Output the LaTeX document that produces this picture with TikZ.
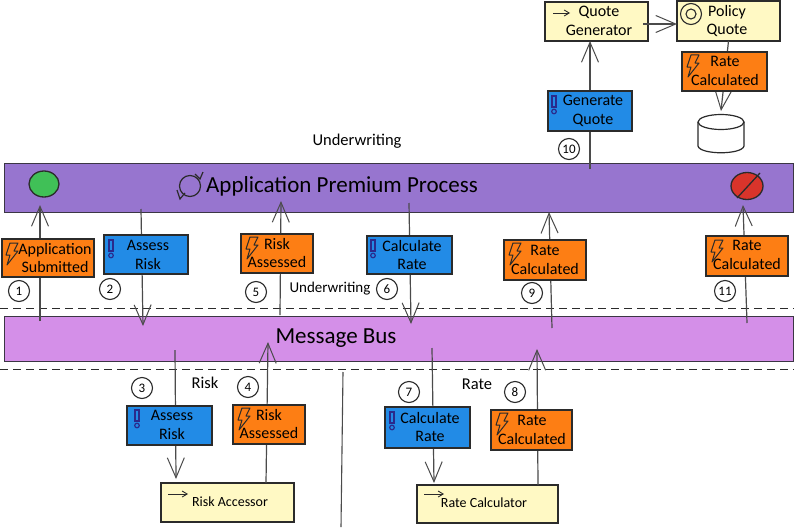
\documentclass[tikz,border=0pt]{standalone}
\usepackage{fontspec}
\setmainfont{Carlito}
\usetikzlibrary{arrows.meta,shapes.geometric}
\definecolor{ink}{HTML}{2B2B2B}
\definecolor{procbar}{HTML}{9775CF}
\definecolor{busbar}{HTML}{D48FE8}
\definecolor{evt}{HTML}{FD7E14}
\definecolor{cmd}{HTML}{228BE6}
\definecolor{svc}{HTML}{FFF9C4}
\definecolor{okgreen}{HTML}{40C057}
\definecolor{stopred}{HTML}{D9342B}
\definecolor{iconblue}{HTML}{2A2A8C}
\tikzset{
  x=1pt,y=-1pt,
  every node/.style={font=\fontsize{16}{18.5}\selectfont,text=black,align=center,inner sep=0pt,outer sep=0pt},
  bar/.style={draw=ink!85!procbar,line width=1pt,rectangle},
  sbox/.style={draw=ink,line width=1.1pt,rectangle},
  evtbox/.style={sbox,fill=evt},
  cmdbox/.style={sbox,fill=cmd},
  svcbox/.style={sbox,fill=svc},
  flow/.style={draw=ink!85,line width=1.2pt,-{Straight Barb[length=20pt,width=17pt,line width=1pt]}},
  plainline/.style={draw=ink!85,line width=1.1pt},
  dashline/.style={draw=ink,line width=1pt,dash pattern=on 8pt off 5pt},
  numc/.style={circle,draw=ink,line width=1.1pt,minimum size=21pt,font=\fontsize{13}{15}\selectfont},
  lbl/.style={font=\fontsize{16.5}{19}\selectfont},
  small/.style={font=\fontsize{14}{16}\selectfont},
  title/.style={font=\fontsize{23}{27}\selectfont},
  icon/.style={draw=ink,line width=1pt},
}
\newcommand\skbox[7][]{\node[#3,minimum width={(#6-#4)*1pt},minimum height={(#7-#5)*1pt}] (#2) at ({(#4+#6)/2},{(#5+#7)/2}) {};}
\newcommand\bolt[2]{\draw[icon,line join=round,shift={(#1,#2)}] (5,0)--(13,0)--(9,8)--(13,8)--(2,22)--(5,12)--(1,12)--cycle;}
\newcommand\bang[2]{\draw[icon,draw=iconblue,line width=1.2pt,shift={(#1,#2)}] (0,0) rectangle (4,11); \draw[icon,draw=iconblue,line width=1.2pt,shift={(#1,#2)}] (2,15.5) circle[radius=2.3];}
\newcommand\svcarrow[3]{\draw[ink,line width=0.9pt,-{Straight Barb[length=5pt,width=6pt]}] (#1,#2) -- (#1+#3,#2);}
\begin{document}
\begin{tikzpicture}
\useasboundingbox (0,0) rectangle (794,527);
\fill[white] (0,0) rectangle (794,527);

\coordinate (dashAl) at (0,308); \coordinate (dashAr) at (794,308);
\coordinate (dashBl) at (0,369); \coordinate (dashBr) at (794,369);

\skbox{process}{bar,fill=procbar}{4}{163}{793}{212}
\skbox{bus}{bar,fill=busbar}{4}{316}{793}{361}
\draw[dashline] (dashAl) -- (dashAr);
\draw[dashline] (dashBl) -- (dashBr);

\node[title] (proctitle) at (342,186) {Application Premium Process};
\node[title] (bustitle) at (336,338) {Message Bus};
\node[lbl] (uw1) at (357,141) {Underwriting};
\node[font=\fontsize{15}{18}\selectfont] (uw2) at (330,289) {Underwriting};
\node[lbl] (riskl) at (205,383) {Risk};
\node[lbl] (ratel) at (477,384) {Rate};

\node[ellipse,draw=ink,line width=1.3pt,fill=okgreen,minimum width=30pt,minimum height=26pt] (start) at (44,184) {};
\node[ellipse,draw=ink,line width=1.3pt,fill=stopred,minimum width=32pt,minimum height=27pt] (stop) at (747,186) {};
\draw[ink,line width=1.3pt] (737,198) -- (760,173);
\draw[ink,line width=1.2pt] (190,186) circle[radius=10.5];
\draw[ink,line width=1.2pt] (195,174) -- (200,179) -- (203,172);
\draw[ink,line width=1.2pt] (177,190) -- (180,199) -- (185,193);

\coordinate (a1s) at (40,321); \coordinate (a1e) at (40,205);
\coordinate (a2s) at (141,209); \coordinate (a2e) at (143,326);
\coordinate (a5s) at (280,315); \coordinate (a5e) at (281,201);
\coordinate (a6s) at (409,203); \coordinate (a6e) at (411,324);
\coordinate (a9s) at (552,328); \coordinate (a9e) at (549,212);
\coordinate (a11s) at (747,323); \coordinate (a11e) at (743,205);
\coordinate (a10s) at (590,169);
\coordinate (a3s) at (175,350); \coordinate (a3e) at (176,479);
\coordinate (a4e) at (268,342);
\coordinate (a7s) at (432,348); \coordinate (a7e) at (434,483);
\coordinate (a8e) at (537,349);
\coordinate (divT) at (343,372); \coordinate (divB) at (341,527);

\skbox{qgen}{svcbox}{545}{2}{648}{41}
\skbox{pq}{svcbox}{677}{1}{780}{41}
\skbox{raccess}{svcbox}{161}{483}{294}{522}
\skbox{rcalc}{svcbox}{417}{485}{558}{523}

\node[minimum width=47pt,minimum height=39pt] (db) at (721,133.5) {};
\draw[ink,line width=1.2pt,fill=white] (698,122) -- (698,146) .. controls (700,155) and (742,155) .. (744,146) -- (744,122);
\draw[ink,line width=1.2pt,fill=white] (721,122) ellipse[x radius=23,y radius=7.5];

\draw[flow] (a1s) -- (a1e);
\draw[flow] (a2s) -- (a2e);
\draw[flow] (a5s) -- (a5e);
\draw[flow] (a6s) -- (a6e);
\draw[flow] (a9s) -- (a9e);
\draw[flow] (a11s) -- (a11e);
\draw[flow] (a10s) -- (qgen.south -| a10s);
\draw[flow] (qgen.east |- 0,24) ++(-5,0) -- (pq.west |- 0,24);
\draw[flow] (pq.south) -- ([yshift=3pt]db.north);
\draw[flow] (raccess.north -| 266,0) -- (a4e);
\draw[flow] (a3s) -- (a3e);
\draw[flow] (a7s) -- (a7e);
\draw[flow] (rcalc.north -| 538,0) -- (a8e);
\draw[plainline] (divT) -- (divB);

\skbox{b1}{evtbox}{2}{239}{94}{277}
\skbox{b2}{cmdbox}{104}{235}{188}{274}
\skbox{b5}{evtbox}{241}{234}{313}{273}
\skbox{b6}{cmdbox}{367}{236}{452}{274}
\skbox{b9}{evtbox}{504}{240}{586}{280}
\skbox{b11}{evtbox}{706}{236}{788}{276}
\skbox{b10}{cmdbox}{548}{91}{632}{131}
\skbox{b12}{evtbox}{682}{52}{767}{91}
\skbox{b3}{cmdbox}{127}{406}{212}{445}
\skbox{b4}{evtbox}{233}{405}{305}{444}
\skbox{b7}{cmdbox}{385}{407}{470}{448}
\skbox{b8}{evtbox}{491}{410}{572}{450}

\node (t1) at (55,258) {Application\\Submitted};
\node (t2) at (148,255) {Assess\\Risk};
\node (t5) at (277,253) {Risk\\Assessed};
\node (t6) at (412,255) {Calculate\\Rate};
\node (t9) at (545,260) {Rate\\Calculated};
\node (t11) at (747,255) {Rate\\Calculated};
\node (t10) at (593,111) {Generate\\Quote};
\node (t12) at (725,71) {Rate\\Calculated};
\node (t3) at (172,425) {Assess\\Risk};
\node (t4) at (269,424) {Risk\\Assessed};
\node (t7) at (430,427) {Calculate\\Rate};
\node (t8) at (532,430) {Rate\\Calculated};
\node (tq) at (599,21) {Quote\\Generator};
\node (tp) at (727,21) {Policy\\Quote};
\node[small] (tra) at (230,502) {Risk Accessor};
\node[small] (trc) at (484,503) {Rate Calculator};

\bolt{5}{243}\bolt{245}{237}\bolt{508}{243}\bolt{710}{240}\bolt{686}{55}\bolt{237}{408}\bolt{495}{413}
\bang{109}{240}\bang{371}{240}\bang{552}{96}\bang{135}{410}\bang{390}{412}
\svcarrow{553}{13}{17}
\svcarrow{168}{494}{20}
\svcarrow{424}{494}{20}
\draw[ink,line width=1.1pt] (691,14) circle[radius=10.5] (691,14) circle[radius=5];

\node[numc] (n1) at (19,291) {1};
\node[numc] (n2) at (110,289) {2};
\node[numc] (n5) at (256,292) {5};
\node[numc] (n6) at (387,289) {6};
\node[numc] (n9) at (532,293) {9};
\node[numc] (n11) at (725,291) {11};
\node[numc] (n10) at (569,149) {10};
\node[numc] (n3) at (142,388) {3};
\node[numc] (n4) at (248,387) {4};
\node[numc] (n7) at (409,392) {7};
\node[numc] (n8) at (515,392) {8};
\end{tikzpicture}
\end{document}
